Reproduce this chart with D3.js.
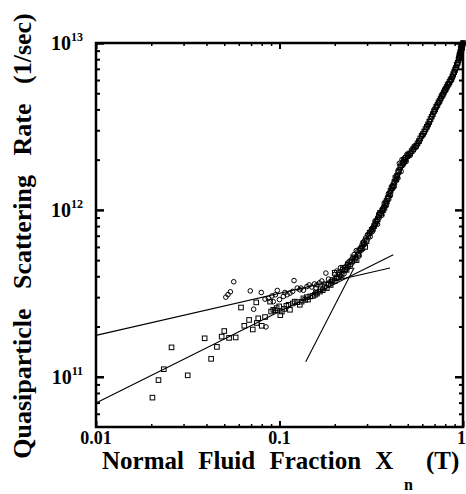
<!DOCTYPE html>
<html><head><meta charset="utf-8">
<script src="https://cdn.jsdelivr.net/npm/d3@7"></script>
<style>body{margin:0;background:#fff}svg{display:block}</style>
</head><body>
<svg id="c" width="466" height="494"></svg>
<script>
// ---------- data ----------
const xTickValues = [0.01, 0.1, 1];
const xTickLabels = ["0.01", "0.1", "1"];
const yTickValues = [1e11, 1e12, 1e13];
const yTickExponents = ["11", "12", "13"];
const xTitle = ["Normal Fluid Fraction X", "n", "(T)"];
const yTitle = "Quasiparticle Scattering Rate (1/sec)";

// circle symbols [x, rate]
const circles = [
  [0.051,3.0e11],[0.0524,3.11e11],[0.054,3.23e11],[0.0563,3.71e11],[0.0693,3.27e11],
  [0.0723,2.54e11],[0.0796,3.2e11],[0.0834,2.92e11],[0.0844,1.99e11],[0.087,2.95e11],
  [0.091,3.05e11],[0.0925,2.82e11],[0.095,3.1e11],[0.0973,3.29e11],[0.1,2.9e11],[0.105,3.03e11],
  [0.107,3.2e11],[0.11,3.1e11],[0.114,3.17e11],[0.118,3.25e11],[0.120,3.77e11],[0.125,3.4e11],
  [0.129,3.32e11],[0.131,3.4e11],[0.135,3.3e11],[0.141,3.47e11],[0.145,3.55e11],[0.15,3.45e11],
  [0.155,3.6e11],[0.158,3.4e11],[0.160,3.56e11],[0.165,3.65e11],[0.17,3.75e11],[0.175,3.6e11],
  [0.179,4.18e11],[0.185,3.85e11],
  [0.19,3.7e11],[0.2,4.1e11],[0.205,3.9e11],[0.21,4.2e11],[0.215,4.0e11],[0.22,4.4e11],
  [0.225,4.3e11],[0.23,4.6e11],[0.235,4.5e11],[0.24,4.9e11],[0.245,4.7e11],[0.25,5.1e11],
  [0.255,5.4e11],[0.26,5.2e11],[0.265,5.6e11],[0.27,5.5e11],[0.275,5.9e11],[0.28,6.0e11],
  [0.285,6.4e11],[0.29,6.2e11],[0.295,6.8e11],[0.30,6.6e11],[0.31,7.2e11],[0.315,7.5e11],
  [0.32,7.4e11],[0.325,7.9e11],[0.33,8.2e11],[0.34,8.6e11],[0.345,9.1e11],[0.35,9.0e11],
  [0.36,9.8e11],[0.365,1.02e12],[0.37,1.05e12],[0.38,1.12e12],[0.385,1.1e12],[0.39,1.2e12],
  [0.40,1.28e12],[0.41,1.33e12],[0.42,1.45e12],[0.43,1.5e12],[0.44,1.62e12],[0.45,1.9e12],
  [0.46,1.7e12],[0.465,2.0e12],[0.47,1.85e12],[0.48,2.05e12],[0.49,1.95e12],[0.50,2.1e12],
  [0.52,2.2e12],[0.54,2.3e12],[0.56,2.45e12],[0.58,2.6e12],[0.60,2.8e12],[0.62,2.95e12],
  [0.64,3.2e12],[0.66,3.4e12],[0.68,3.7e12],[0.70,3.9e12],[0.72,4.2e12],[0.74,4.4e12],
  [0.76,4.7e12],[0.78,4.95e12],[0.80,5.2e12],[0.82,5.5e12],[0.84,5.7e12],[0.86,6.0e12],
  [0.88,6.3e12],[0.90,6.7e12],[0.92,7.2e12],[0.94,7.7e12],[0.95,8.2e12],[0.96,8.6e12],
  [0.97,9.0e12],[0.98,9.3e12],[0.99,9.6e12],[1.0,9.9e12],
  [0.205,4.3e11],[0.215,4.5e11],[0.225,4.15e11],[0.235,4.8e11],[0.245,5.0e11],[0.255,4.95e11],
  [0.262,5.7e11],[0.272,5.3e11],[0.282,6.2e11],[0.292,6.6e11],[0.302,7.1e11],[0.312,6.9e11],
  [0.322,7.8e11],[0.332,8.6e11],[0.342,8.2e11],[0.352,9.5e11],[0.362,9.3e11],[0.372,1.1e12],
  [0.382,1.06e12],[0.392,1.25e12],[0.402,1.22e12],[0.412,1.4e12],[0.422,1.38e12],[0.432,1.6e12],
  [0.442,1.55e12],[0.452,1.75e12],[0.475,2.0e12],[0.495,2.15e12],[0.515,2.12e12],[0.535,2.35e12],
  [0.555,2.38e12],[0.575,2.55e12],[0.595,2.75e12],[0.615,2.88e12],[0.635,3.1e12],[0.655,3.3e12],
  [0.675,3.6e12],[0.695,3.85e12],[0.715,4.1e12],[0.735,4.35e12],[0.755,4.6e12],[0.775,4.85e12],
  [0.795,5.1e12],[0.815,5.35e12],[0.835,5.65e12],[0.855,5.9e12],[0.875,6.2e12],[0.895,6.6e12],
  [0.915,7.0e12],[0.935,7.5e12],[0.955,8.0e12],[0.965,8.3e12],[0.975,8.9e12],[0.985,9.4e12],
  [0.992,9.7e12],[0.996,1.0e13],[0.97,9.5e12],[0.99,9.2e12]
];

// square symbols [x, rate]
const squares = [
  [0.0203,7.5e10],[0.0219,9.55e10],[0.0234,1.11e11],[0.0258,1.50e11],[0.0316,1.02e11],
  [0.0391,1.70e11],[0.0424,1.28e11],[0.0456,1.51e11],[0.0484,1.74e11],[0.050,1.88e11],
  [0.0531,1.71e11],[0.0577,1.72e11],[0.0617,2.60e11],[0.0643,2.02e11],[0.0683,2.19e11],
  [0.0715,1.92e11],[0.0752,2.10e11],[0.0747,2.79e11],[0.0766,2.24e11],[0.080,2.02e11],
  [0.0834,2.28e11],[0.0888,2.82e11],[0.090,2.46e11],[0.0925,2.52e11],[0.0945,2.50e11],
  [0.0965,2.58e11],[0.0996,2.64e11],[0.101,2.34e11],[0.103,2.46e11],[0.106,2.55e11],
  [0.109,2.66e11],[0.112,2.7e11],[0.114,2.52e11],[0.118,2.75e11],[0.121,2.82e11],
  [0.125,2.8e11],[0.129,2.70e11],[0.132,2.82e11],[0.135,2.95e11],[0.138,2.89e11],
  [0.141,3.0e11],[0.143,2.9e11],[0.147,3.03e11],[0.152,3.05e11],[0.156,3.10e11],
  [0.158,3.2e11],[0.16,3.15e11],[0.166,3.24e11],[0.168,3.35e11],[0.172,3.3e11],
  [0.176,3.45e11],[0.181,3.40e11],[0.185,3.6e11],[0.19,3.55e11],[0.192,3.72e11],
  [0.195,3.8e11],[0.2,3.75e11],[0.205,3.90e11],
  [0.212,4.1e11],[0.218,4.08e11],[0.228,4.4e11],[0.232,4.37e11],[0.237,4.69e11],
  [0.248,4.9e11],[0.258,5.1e11],[0.268,5.4e11],[0.278,5.8e11],[0.288,6.3e11],
  [0.298,6.5e11],[0.305,7.0e11],[0.318,7.6e11],[0.328,8.0e11],[0.338,8.5e11],
  [0.348,9.3e11],[0.358,9.5e11],[0.368,1.0e12],[0.378,1.08e12],[0.388,1.16e12],
  [0.398,1.24e12],[0.408,1.35e12],[0.418,1.4e12],[0.428,1.55e12],[0.438,1.6e12],
  [0.448,1.72e12],[0.455,1.8e12],[0.468,1.9e12],[0.478,1.95e12],[0.488,2.05e12],
  [0.505,2.15e12],[0.525,2.25e12],[0.545,2.38e12],[0.565,2.5e12],[0.585,2.68e12],
  [0.605,2.85e12],[0.625,3.05e12],[0.645,3.25e12],[0.665,3.5e12],[0.685,3.75e12],
  [0.705,4.0e12],[0.725,4.25e12],[0.745,4.5e12],[0.765,4.8e12],[0.785,5.05e12],
  [0.805,5.3e12],[0.825,5.6e12],[0.845,5.85e12],[0.865,6.1e12],[0.885,6.5e12],
  [0.905,6.9e12],[0.925,7.4e12],[0.945,7.9e12],[0.955,8.4e12],[0.965,8.8e12],
  [0.975,9.2e12],[0.985,9.5e12],[0.995,9.8e12],
  [0.2,4.2e11],[0.21,3.95e11],[0.222,4.5e11],[0.242,4.6e11],[0.252,5.2e11],[0.263,5.0e11],
  [0.273,5.7e11],[0.283,5.9e11],[0.293,6.0e11],[0.31,7.3e11],[0.323,7.7e11],[0.333,8.3e11],
  [0.343,8.8e11],[0.353,9.6e11],[0.363,9.9e11],[0.373,1.03e12],[0.383,1.13e12],[0.393,1.18e12],
  [0.403,1.3e12],[0.413,1.37e12],[0.423,1.47e12],[0.433,1.52e12],[0.443,1.68e12],[0.46,1.85e12],
  [0.472,1.92e12],[0.485,2.0e12],[0.498,2.1e12],[0.515,2.18e12],[0.535,2.3e12],[0.555,2.42e12],
  [0.575,2.58e12],[0.595,2.78e12],[0.615,2.95e12],[0.635,3.15e12],[0.655,3.38e12],[0.675,3.62e12],
  [0.695,3.9e12],[0.715,4.15e12],[0.735,4.4e12],[0.755,4.65e12],[0.775,4.9e12],[0.795,5.2e12],
  [0.815,5.45e12],[0.835,5.7e12],[0.855,6.0e12],[0.875,6.3e12],[0.895,6.7e12],[0.915,7.1e12],
  [0.935,7.6e12],[0.95,8.1e12],[0.96,8.5e12],[0.97,8.7e12],[0.98,9.0e12],[0.99,9.4e12],
  [1.0,1.0e13],[0.985,9.7e12]
];

// fitted power-law lines, end points [x, rate]
const fitUpper = [[0.01,1.77e11],[0.40,4.48e11]];
const fitLower = [[0.01,6.96e10],[0.417,5.38e11]];
const fitSteep = [[0.139,1.23e11],[0.255,4.5e11]];

// ---------- drawing ----------
const svg = d3.select("#c");
const L = 96, R = 463, T = 43, B = 427;
const x = d3.scaleLog().domain([0.01, 1]).range([L, R]);
const y = d3.scaleLog().domain([5e10, 1e13]).range([B, T]);
const serif = "'Liberation Serif','Times New Roman',serif";

function minorVals(dom) {
  const out = [];
  const lo = Math.floor(Math.log10(dom[0])), hi = Math.ceil(Math.log10(dom[1]));
  for (let e = lo; e < hi; e++) for (let m = 2; m <= 9; m++) {
    const v = m * Math.pow(10, e);
    if (v > dom[0] && v < dom[1]) out.push(v);
  }
  return out;
}
const xMinor = minorVals(x.domain()), yMinor = minorVals(y.domain());

function styleAxis(g, w) {
  g.select(".domain").remove();
  g.selectAll(".tick line").attr("stroke", "#000").attr("stroke-width", w);
  g.selectAll(".tick text").remove();
}
svg.append("g").attr("transform", `translate(0,${B})`)
  .call(d3.axisBottom(x).tickValues(xMinor).tickSize(-3)).call(g => styleAxis(g, 1.5));
svg.append("g").attr("transform", `translate(0,${B})`)
  .call(d3.axisBottom(x).tickValues(xTickValues).tickSize(-6)).call(g => styleAxis(g, 2));
svg.append("g").attr("transform", `translate(0,${T})`)
  .call(d3.axisTop(x).tickValues(xMinor).tickSize(-3)).call(g => styleAxis(g, 1.5));
svg.append("g").attr("transform", `translate(0,${T})`)
  .call(d3.axisTop(x).tickValues(xTickValues).tickSize(-6)).call(g => styleAxis(g, 2));
svg.append("g").attr("transform", `translate(${L},0)`)
  .call(d3.axisLeft(y).tickValues(yMinor).tickSize(-4)).call(g => styleAxis(g, 2));
svg.append("g").attr("transform", `translate(${L},0)`)
  .call(d3.axisLeft(y).tickValues(yTickValues).tickSize(-8)).call(g => styleAxis(g, 2.5));
svg.append("g").attr("transform", `translate(${R},0)`)
  .call(d3.axisRight(y).tickValues(yMinor).tickSize(-4)).call(g => styleAxis(g, 2));
svg.append("g").attr("transform", `translate(${R},0)`)
  .call(d3.axisRight(y).tickValues(yTickValues).tickSize(-8)).call(g => styleAxis(g, 2.5));

svg.append("rect").attr("x", L).attr("y", T).attr("width", R - L).attr("height", B - T)
  .attr("fill", "none").attr("stroke", "#000").attr("stroke-width", 2.5);

// x tick labels
svg.append("g").selectAll("text").data(xTickValues).join("text")
  .attr("x", (d, i) => i === 2 ? 466 : x(d)).attr("y", B + 17)
  .attr("text-anchor", (d, i) => i === 2 ? "end" : "middle")
  .attr("font-family", serif).attr("font-weight", "bold").attr("font-size", 18)
  .text((d, i) => xTickLabels[i]);

// y tick labels with superscripts
const yl = svg.append("g").selectAll("text").data(yTickValues).join("text")
  .attr("x", 83).attr("y", d => y(d) + 7).attr("text-anchor", "end")
  .attr("font-family", serif).attr("font-weight", "bold").attr("font-size", 20);
yl.append("tspan").text("10");
yl.append("tspan").attr("dy", -9).attr("font-size", 12).text((d, i) => yTickExponents[i]);

// fit lines
const line = d3.line().x(d => x(d[0])).y(d => y(d[1]));
svg.append("g").selectAll("path").data([fitUpper, fitLower, fitSteep]).join("path")
  .attr("d", line).attr("fill", "none").attr("stroke", "#000").attr("stroke-width", 1.1);

// symbols
svg.append("g").selectAll("rect").data(squares).join("rect")
  .attr("x", d => x(d[0]) - 2.3).attr("y", d => y(d[1]) - 2.3)
  .attr("width", 4.6).attr("height", 4.6)
  .attr("fill", "none").attr("stroke", "#000").attr("stroke-width", 1);
svg.append("g").selectAll("circle").data(circles).join("circle")
  .attr("cx", d => x(d[0])).attr("cy", d => y(d[1])).attr("r", 2.3)
  .attr("fill", "none").attr("stroke", "#000").attr("stroke-width", 1);

// axis titles
const xt = svg.append("text").attr("y", 469)
  .attr("font-family", serif).attr("font-weight", "bold").attr("font-size", 25)
  .attr("word-spacing", 8);
xt.append("tspan").attr("x", 102).text(xTitle[0]);
xt.append("tspan").attr("x", 404).attr("y", 490).attr("font-size", 16).text(xTitle[1]);
xt.append("tspan").attr("x", 426).attr("y", 469).text(xTitle[2]);

svg.append("text").attr("transform", "translate(31,236) rotate(-90)")
  .attr("text-anchor", "middle")
  .attr("font-family", serif).attr("font-weight", "bold").attr("font-size", 26)
  .attr("word-spacing", 13).text(yTitle);
</script>
</body></html>
